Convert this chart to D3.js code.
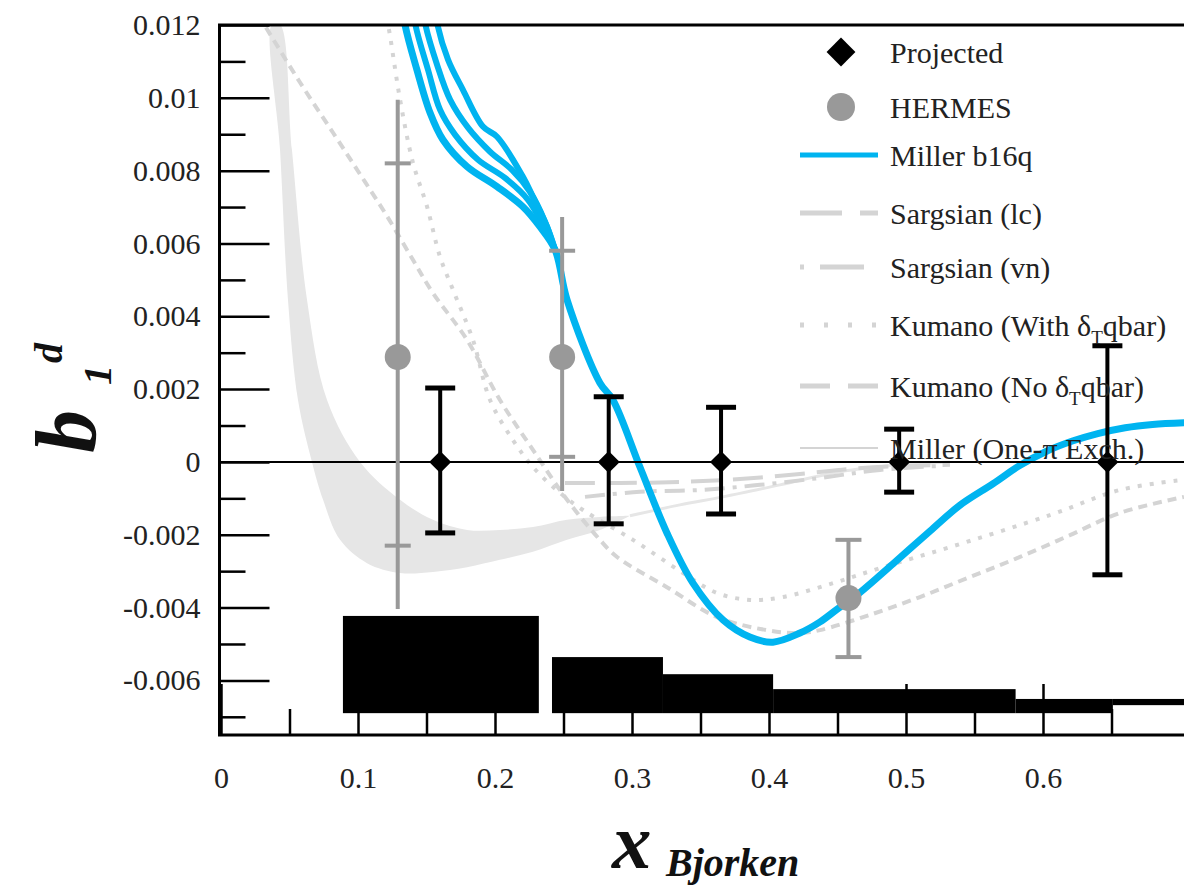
<!DOCTYPE html>
<html>
<head>
<meta charset="utf-8">
<script src="https://cdn.jsdelivr.net/npm/d3@7"></script>
<style>
  body { margin: 0; background: #fff; }
  svg text { font-family: "Liberation Serif", "Times New Roman", serif; }
</style>
</head>
<body>
<svg id="chart" width="1184" height="886"></svg>
<script>
'use strict';
// ---- data ----
const projX = [0.160, 0.283, 0.365, 0.495, 0.647];
const projY = [0, 0, 0, 0, 0];
const projHi = [0.00203, 0.00179, 0.0015, 0.0009, 0.00319];
const projLo = [-0.00195, -0.0017, -0.00143, -0.00083, -0.0031];

const hermesX = [0.129, 0.249, 0.458];
const hermesY = [0.00288, 0.00288, -0.00374];
const hermesStatHi = [0.0082, 0.0058, -0.00214];
const hermesStatLo = [-0.0023, 0.00014, -0.00536];
const hermesTotHi = [0.00995, 0.00673, -0.00214];
const hermesTotLo = [-0.00404, -0.0008, -0.00536];

// systematic error bands at the bottom
const sysX0 = [0.089, 0.2416, 0.3226, 0.403, 0.580, 0.651];
const sysX1 = [0.232, 0.3226, 0.403, 0.580, 0.651, 0.72];
const sysTop = [-0.00423, -0.00536, -0.00583, -0.00624, -0.00651, -0.00651];
const sysBot = [-0.0069, -0.0069, -0.0069, -0.0069, -0.0069, -0.00668];

// Miller b16q: main curve + spread of curves at low x
const millerX = [0.130, 0.134, 0.143, 0.1526, 0.162, 0.1796, 0.2015, 0.2204, 0.2328, 0.2438, 0.2526, 0.2766, 0.2861,
  0.3058, 0.3255, 0.3445, 0.3664, 0.386, 0.4029, 0.4226, 0.437, 0.4496, 0.466, 0.4905, 0.5175, 0.539, 0.5635,
  0.583, 0.603, 0.622, 0.64, 0.66, 0.68, 0.705];
const millerY = [0.0132, 0.01206, 0.01077, 0.00959, 0.00885, 0.00811, 0.00756, 0.00701, 0.00646, 0.00583, 0.00445,
  0.00217, 0.0017, -0.00014, -0.00195, -0.00333, -0.00434, -0.00481, -0.00495, -0.0047, -0.0044, -0.00405,
  -0.0036, -0.0028, -0.0019, -0.0012, -0.0006, -0.0001, 0.0003, 0.00058, 0.00078, 0.00094, 0.00103, 0.00108];
const millerBX = [0.138, 0.1416, 0.1511, 0.1599, 0.1708, 0.1876, 0.2073, 0.2241, 0.235, 0.2438];
const millerBY = [0.0132, 0.01206, 0.01077, 0.00967, 0.00899, 0.0083, 0.0078, 0.0072, 0.00651, 0.00583];
const millerCX = [0.145, 0.1489, 0.1577, 0.1672, 0.1803, 0.1964, 0.2124, 0.2255, 0.2365, 0.2438];
const millerCY = [0.0132, 0.01206, 0.01091, 0.00995, 0.00918, 0.00852, 0.00802, 0.00742, 0.0066, 0.00583];
const millerDX = [0.154, 0.1577, 0.1657, 0.1766, 0.1912, 0.2015, 0.2204, 0.2277, 0.238, 0.2438];
const millerDY = [0.0132, 0.01206, 0.01105, 0.01022, 0.00921, 0.00893, 0.00783, 0.00728, 0.00646, 0.00583];

const kumWithX = [0.1204, 0.1219, 0.1307, 0.1401, 0.1504, 0.1599, 0.1693, 0.1839, 0.1964, 0.2131, 0.2277, 0.2474,
  0.2642, 0.3007, 0.3372, 0.362, 0.3861, 0.4102, 0.4467, 0.4832, 0.5321, 0.6051, 0.6562, 0.7029];
const kumWithY = [0.0122, 0.01201, 0.00995, 0.00822, 0.00701, 0.00563, 0.00473, 0.00335, 0.0017, 0.0006, -0.00014,
  -0.00085, -0.00132, -0.00214, -0.00305, -0.0036, -0.00379, -0.00371, -0.00333, -0.00289, -0.00234, -0.00146,
  -0.00077, -0.00049];

const kumNoX = [0.027, 0.0307, 0.0577, 0.0818, 0.1015, 0.1212, 0.1401, 0.1547, 0.1796, 0.2036, 0.2277, 0.2526,
  0.2766, 0.2891, 0.3255, 0.362, 0.3985, 0.4226, 0.4372, 0.4737, 0.5102, 0.5467, 0.5832, 0.6197, 0.6562, 0.7029];
const kumNoY = [0.01228, 0.01206, 0.01042, 0.00904, 0.0079, 0.00675, 0.00555, 0.00464, 0.00335, 0.0017, 0.00033,
  -0.00104, -0.00214, -0.00261, -0.00344, -0.00426, -0.00462, -0.0047, -0.00462, -0.0042, -0.00371, -0.00316,
  -0.00261, -0.00201, -0.0014, -0.00096];

const sargLcX = [0.2511, 0.2912, 0.335, 0.3788, 0.4226, 0.4591, 0.4956, 0.5321];
const sargLcY = [-0.00058, -0.00058, -0.00055, -0.00047, -0.00033, -0.00019, -0.00011, -0.00008];
const sargVnX = [0.2657, 0.3058, 0.3496, 0.3934, 0.4372, 0.481, 0.5248];
const sargVnY = [-0.00096, -0.00082, -0.00077, -0.00063, -0.00044, -0.00022, -0.00011];

// Miller one-pion exchange: band at low x, then a single line
const opeBandX = [0.0372, 0.0431, 0.0489, 0.0562, 0.0664, 0.0745, 0.0869, 0.1066, 0.1307, 0.1547, 0.1796, 0.2036,
  0.2277, 0.2526, 0.2766, 0.2985];
const opeBandLo = [0.01201, 0.00857, 0.00445, 0.0017, 0, -0.00104, -0.00214, -0.00278, -0.00305, -0.00302,
  -0.00289, -0.00269, -0.00247, -0.00214, -0.00187, -0.00148];
const opeBandUpX = [0.0431, 0.0518, 0.0628, 0.0774, 0.1015, 0.1307, 0.1547, 0.1796, 0.2036, 0.2277, 0.2526,
  0.2766, 0.2985];
const opeBandUp = [0.01201, 0.00857, 0.00445, 0.0017, 0, -0.00104, -0.00159, -0.00187, -0.00187, -0.00179,
  -0.00159, -0.00151, -0.00148];
const opeLineX = [0.2985, 0.335, 0.3664, 0.408, 0.4518, 0.4956, 0.532];
const opeLineY = [-0.00148, -0.00118, -0.00096, -0.00063, -0.00027, -0.00008, 0];

const yMajor = [-0.006, -0.004, -0.002, 0, 0.002, 0.004, 0.006, 0.008, 0.01, 0.012];
const yMinor = [-0.007, -0.005, -0.003, -0.001, 0.001, 0.003, 0.005, 0.007, 0.009, 0.011];
const xMajor = [0, 0.1, 0.2, 0.3, 0.4, 0.5, 0.6];
const xMinor = [0.05, 0.15, 0.25, 0.35, 0.45, 0.55, 0.65];

const legendLabels = ["Projected", "HERMES", "Miller b16q", "Sargsian (lc)", "Sargsian (vn)",
  "Kumano (With δ|T|qbar)", "Kumano (No δ|T|qbar)", "Miller (One-π Exch.)"];

// ---- drawing ----
const blue = "#00b4f0", lgray = "#d4d4d4", band = "#e6e6e6", hgray = "#999999";
const svg = d3.select("#chart");
const x = d3.scaleLinear().domain([0, 0.7]).range([221, 1180]);
const y = d3.scaleLinear().domain([-0.0075, 0.012]).range([735, 25]);

svg.append("clipPath").attr("id", "plotclip")
  .append("rect").attr("x", 220).attr("y", 25).attr("width", 980).attr("height", 710);
const plot = svg.append("g").attr("clip-path", "url(#plotclip)");

function zipXY(xs, ys) { return xs.map((v, i) => [v, ys[i]]); }
const lineC = d3.line().x(d => x(d[0])).y(d => y(d[1])).curve(d3.curveCatmullRom);

// band
const bandPts = zipXY(opeBandX, opeBandLo).concat(zipXY(opeBandUpX, opeBandUp).reverse());
plot.append("path").attr("d", d3.line().x(d => x(d[0])).y(d => y(d[1])).curve(d3.curveCatmullRomClosed)(bandPts))
  .attr("fill", band);
plot.append("path").attr("d", lineC(zipXY(opeLineX, opeLineY)))
  .attr("fill", "none").attr("stroke", band).attr("stroke-width", 3);

function grayCurve(xs, ys, dash) {
  plot.append("path").attr("d", lineC(zipXY(xs, ys)))
    .attr("fill", "none").attr("stroke", lgray).attr("stroke-width", 4)
    .attr("stroke-dasharray", dash);
}
grayCurve(kumNoX, kumNoY, "9,6");
grayCurve(kumWithX, kumWithY, "4,8");
grayCurve(sargLcX, sargLcY, "30,12");
grayCurve(sargVnX, sargVnY, "20,8,4,8");

// Miller b16q
[[millerBX, millerBY], [millerCX, millerCY], [millerDX, millerDY]].forEach(function (c) {
  plot.append("path").attr("d", lineC(zipXY(c[0], c[1])))
    .attr("fill", "none").attr("stroke", blue).attr("stroke-width", 6);
});
plot.append("path").attr("d", lineC(zipXY(millerX, millerY)))
  .attr("fill", "none").attr("stroke", blue).attr("stroke-width", 7).attr("stroke-linejoin", "round");

// zero line
svg.append("line").attr("x1", 219).attr("x2", 1184).attr("y1", y(0)).attr("y2", y(0))
  .attr("stroke", "#000").attr("stroke-width", 2);

// axes ticks
const fontSize = 30;
const yAxisMajor = d3.axisLeft(y).tickValues(yMajor).tickSize(-50).tickPadding(19)
  .tickFormat(d => d === 0 ? "0" : String(+d.toFixed(3)));
const yAxisMinor = d3.axisLeft(y).tickValues(yMinor).tickSize(-26).tickFormat("");
const xAxisMajor = d3.axisBottom(x).tickValues(xMajor).tickSize(-50).tickPadding(33)
  .tickFormat(d => d === 0 ? "0" : String(d));
const xAxisMinor = d3.axisBottom(x).tickValues(xMinor).tickSize(-25).tickFormat("");

function styleAxis(g) {
  g.select(".domain").remove();
  g.selectAll("line").attr("stroke", "#000").attr("stroke-width", 2.5);
  g.selectAll("text").attr("font-size", fontSize).attr("fill", "#222")
    .attr("font-family", "'Liberation Serif', 'Times New Roman', serif");
}
svg.append("g").attr("transform", "translate(219.5,0)").call(yAxisMajor).call(styleAxis);
svg.append("g").attr("transform", "translate(219.5,0)").call(yAxisMinor).call(styleAxis);
svg.append("g").attr("transform", "translate(0,734)").call(xAxisMajor).call(styleAxis);
svg.append("g").attr("transform", "translate(0,734)").call(xAxisMinor).call(styleAxis);

// systematic bars
plot.selectAll("rect.sys").data(sysX0).join("rect").attr("class", "sys")
  .attr("x", (d, i) => x(d)).attr("width", (d, i) => x(sysX1[i]) - x(d))
  .attr("y", (d, i) => y(sysTop[i])).attr("height", (d, i) => y(sysBot[i]) - y(sysTop[i]))
  .attr("fill", "#000");

// frame
svg.append("path").attr("d", "M1184,25H219.5V735H1184")
  .attr("fill", "none").attr("stroke", "#000").attr("stroke-width", 3);

// HERMES points
const hg = svg.append("g");
hermesX.forEach(function (hx, i) {
  const cx = x(hx);
  hg.append("line").attr("x1", cx).attr("x2", cx).attr("y1", y(hermesTotHi[i])).attr("y2", y(hermesTotLo[i]))
    .attr("stroke", hgray).attr("stroke-width", 4);
  [hermesStatHi[i], hermesStatLo[i]].forEach(function (v) {
    hg.append("line").attr("x1", cx - 13).attr("x2", cx + 13).attr("y1", y(v)).attr("y2", y(v))
      .attr("stroke", hgray).attr("stroke-width", 4);
  });
  hg.append("circle").attr("cx", cx).attr("cy", y(hermesY[i])).attr("r", 13).attr("fill", hgray);
});

// projected points
const pg = svg.append("g");
const diamond = d3.symbol().type(d3.symbolDiamond2).size(310);
projX.forEach(function (px, i) {
  const cx = x(px);
  pg.append("line").attr("x1", cx).attr("x2", cx).attr("y1", y(projHi[i])).attr("y2", y(projLo[i]))
    .attr("stroke", "#000").attr("stroke-width", 4);
  [projHi[i], projLo[i]].forEach(function (v) {
    pg.append("line").attr("x1", cx - 15).attr("x2", cx + 15).attr("y1", y(v)).attr("y2", y(v))
      .attr("stroke", "#000").attr("stroke-width", 5);
  });
  pg.append("path").attr("d", diamond()).attr("transform", "translate(" + cx + "," + y(projY[i]) + ")")
    .attr("fill", "#000");
});

// legend
const legendRowY = [52, 107, 155, 213, 267, 325, 386, 448];
const lg = svg.append("g");
lg.append("path").attr("d", d3.symbol().type(d3.symbolDiamond2).size(530)())
  .attr("transform", "translate(841," + legendRowY[0] + ")").attr("fill", "#000");
lg.append("circle").attr("cx", 841).attr("cy", legendRowY[1]).attr("r", 14).attr("fill", hgray);
const legendLines = [
  { row: 2, color: blue, w: 5, dash: null },
  { row: 3, color: lgray, w: 5, dash: "42,18" },
  { row: 4, color: lgray, w: 5, dash: "4,16,44,16" },
  { row: 5, color: lgray, w: 5, dash: "4,20" },
  { row: 6, color: lgray, w: 5, dash: "30,18" },
  { row: 7, color: lgray, w: 2, dash: null }
];
legendLines.forEach(function (l) {
  lg.append("line").attr("x1", 800).attr("x2", 878).attr("y1", legendRowY[l.row]).attr("y2", legendRowY[l.row])
    .attr("stroke", l.color).attr("stroke-width", l.w).attr("stroke-dasharray", l.dash);
});
legendLabels.forEach(function (lab, i) {
  const t = lg.append("text").attr("x", 890).attr("y", legendRowY[i]).attr("dy", "0.35em")
    .attr("font-size", fontSize).attr("fill", "#222");
  const parts = lab.split("|");
  t.append("tspan").text(parts[0]);
  if (parts.length > 1) {
    t.append("tspan").attr("font-size", 19).attr("dy", 8).text(parts[1]);
    t.append("tspan").attr("dy", -8).text(parts[2]);
  }
});

// axis titles
const yt = svg.append("text").attr("transform", "translate(95,453) rotate(-90)")
  .attr("font-weight", "bold").attr("font-style", "italic").attr("fill", "#111");
yt.append("tspan").attr("font-size", 86).text("b");
yt.append("tspan").attr("font-size", 40).attr("dy", 16).attr("dx", 25).text("1");
yt.append("tspan").attr("font-size", 40).attr("dy", -49).attr("dx", 2).text("d");

svg.append("text").attr("x", 612).attr("y", 868)
  .attr("font-weight", "bold").attr("font-style", "italic").attr("fill", "#111")
  .attr("font-size", 79).text("x");
svg.append("text").attr("x", 666).attr("y", 876)
  .attr("font-weight", "bold").attr("font-style", "italic").attr("fill", "#111")
  .attr("font-size", 40).text("Bjorken");
</script>
</body>
</html>
